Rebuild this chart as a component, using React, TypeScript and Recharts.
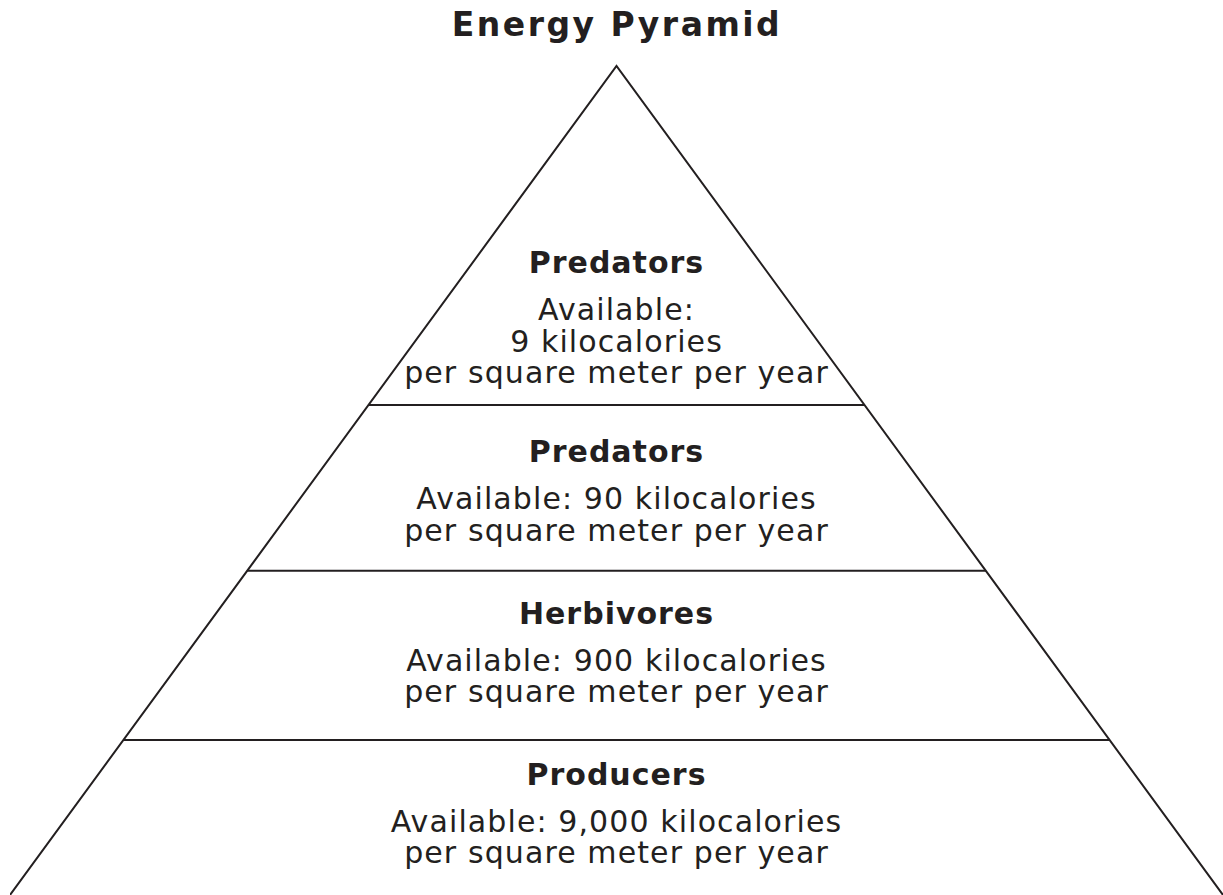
import React from 'react';
import { ComposedChart, Line, Scatter, XAxis, YAxis, ReferenceLine } from 'recharts';

// Heights are % of the pyramid height (base = 0, apex = 100)
const apexHeight = 100;
const halfBase = 100;
const tierBoundaries = [59.1, 39.1, 18.7];

// Tiers listed top to bottom
const tierTitles = ['Predators', 'Predators', 'Herbivores', 'Producers'];
const tierDetails = [
  ['Available:', '9 kilocalories', 'per square meter per year'],
  ['Available: 90 kilocalories', 'per square meter per year'],
  ['Available: 900 kilocalories', 'per square meter per year'],
  ['Available: 9,000 kilocalories', 'per square meter per year'],
];
const tierLabelHeights = [75.0, 52.2, 32.7, 13.3];

const INK = '#231f20';
const FONT = '"DejaVu Sans", Verdana, sans-serif';

const outline = [
  { x: -halfBase, y: 0 },
  { x: 0, y: apexHeight },
  { x: halfBase, y: 0 },
];

const labels = tierTitles.map((title, i) => ({
  x: 0,
  y: tierLabelHeights[i],
  title,
  details: tierDetails[i],
}));

const TierLabel = (props: any) => {
  const { cx, cy, payload } = props;
  if (cx == null || cy == null) return null;
  return (
    <g>
      <text
        x={cx}
        y={cy}
        textAnchor="middle"
        fontFamily={FONT}
        fontWeight="bold"
        fontSize={30}
        letterSpacing={1}
        fill={INK}
      >
        {payload.title}
      </text>
      {payload.details.map((line: string, i: number) => (
        <text
          key={i}
          x={cx}
          y={cy + 47 + i * 31.5}
          textAnchor="middle"
          fontFamily={FONT}
          fontSize={30}
          letterSpacing={1.1}
          fill={INK}
        >
          {line}
        </text>
      ))}
    </g>
  );
};

export default function App() {
  return (
    <div style={{ position: 'absolute', left: 0, top: 0, width: 1223, height: 895, background: '#fff' }}>
      <ComposedChart width={1223} height={895} margin={{ top: 0, right: 0, bottom: 0, left: 10 }}>
        <XAxis type="number" dataKey="x" domain={[-100, 100]} hide allowDataOverflow />
        <YAxis type="number" dataKey="y" domain={[0, 107.96]} hide allowDataOverflow />
        <Line
          data={outline}
          dataKey="y"
          type="linear"
          stroke={INK}
          strokeWidth={2}
          dot={false}
          activeDot={false}
          isAnimationActive={false}
        />
        {tierBoundaries.map((h, i) => {
          const hw = halfBase * (1 - h / apexHeight);
          return (
            <ReferenceLine
              key={i}
              segment={[{ x: -hw, y: h }, { x: hw, y: h }]}
              stroke={INK}
              strokeWidth={2}
            />
          );
        })}
        <Scatter data={labels} dataKey="y" shape={TierLabel} isAnimationActive={false} />
      </ComposedChart>
      <svg width={1223} height={60} style={{ position: 'absolute', left: 0, top: 0 }}>
        <text
          x={617}
          y={36}
          textAnchor="middle"
          fontFamily={FONT}
          fontWeight="bold"
          fontSize={33}
          letterSpacing={2.5}
          fill={INK}
        >
          Energy Pyramid
        </text>
      </svg>
    </div>
  );
}
